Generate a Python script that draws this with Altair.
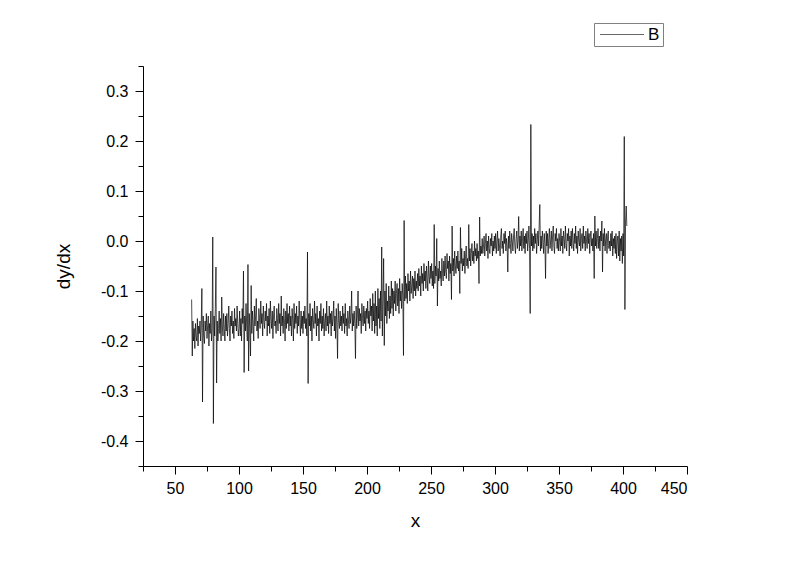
import altair as alt
import pandas as pd

seg_063 = [-0.117, -0.23, -0.16, -0.2, -0.175, -0.215, -0.165, -0.19, -0.2, -0.155, -0.21, -0.17, -0.185, -0.16]
seg_070 = [-0.2, -0.165, -0.095, -0.322, -0.15, -0.19, -0.205, -0.16, -0.18, -0.145, -0.195, -0.17, -0.15, -0.21, -0.165, -0.185, -0.14, -0.2, -0.175, 0.008]
seg_080 = [-0.365, -0.15, -0.19, -0.135, -0.052, -0.284, -0.16, -0.2, -0.175, -0.14, -0.185, -0.155, -0.2, -0.112, -0.17, -0.19, -0.145, -0.175, -0.2, -0.15]
seg_090 = [-0.18, -0.145, -0.19, -0.165, -0.13, -0.175, -0.2, -0.15, -0.17, -0.14, -0.185, -0.16, -0.195, -0.135, -0.17, -0.155, -0.18, -0.13, -0.165, -0.19]
seg_100 = [-0.175, -0.14, -0.19, -0.155, -0.2, -0.135, -0.165, -0.06, -0.263, -0.15, -0.18, -0.125, -0.17, -0.2, -0.047, -0.26, -0.145, -0.175, -0.23, -0.089]
seg_110 = [-0.185, -0.14, -0.165, -0.2, -0.13, -0.17, -0.15, -0.115, -0.18, -0.16, -0.195, -0.135, -0.155, -0.175, -0.12, -0.165, -0.145, -0.19, -0.13, -0.16]
seg_120 = [-0.175, -0.14, -0.16, -0.125, -0.19, -0.15, -0.17, -0.135, -0.185, -0.12, -0.155, -0.175, -0.14, -0.195, -0.15, -0.13, -0.17, -0.16, -0.185, -0.135]
seg_130 = [-0.155, -0.18, -0.125, -0.165, -0.145, -0.19, -0.11, -0.17, -0.15, -0.185, -0.135, -0.16, -0.2, -0.14, -0.175, -0.125, -0.165, -0.145, -0.18, -0.13]
seg_140 = [-0.17, -0.15, -0.19, -0.135, -0.16, -0.2, -0.125, -0.175, -0.145, -0.165, -0.13, -0.185, -0.15, -0.17, -0.12, -0.16, -0.19, -0.14, -0.175, -0.15]
seg_150 = [-0.185, -0.14, -0.165, -0.13, -0.175, -0.155, -0.19, -0.022, -0.285, -0.145, -0.17, -0.125, -0.18, -0.15, -0.2, -0.135, -0.16, -0.175, -0.12, -0.165]
seg_160 = [-0.145, -0.19, -0.13, -0.17, -0.155, -0.2, -0.14, -0.165, -0.125, -0.18, -0.15, -0.175, -0.135, -0.19, -0.16, -0.145, -0.18, -0.12, -0.17, -0.15]
seg_170 = [-0.185, -0.13, -0.165, -0.145, -0.19, -0.14, -0.17, -0.155, -0.12, -0.18, -0.15, -0.195, -0.135, -0.165, -0.235, -0.125, -0.16, -0.175, -0.14, -0.17]
seg_180 = [-0.15, -0.18, -0.13, -0.165, -0.145, -0.185, -0.125, -0.17, -0.155, -0.19, -0.14, -0.16, -0.175, -0.13, -0.165, -0.15, -0.1, -0.18, -0.145, -0.17]
seg_190 = [-0.14, -0.165, -0.235, -0.13, -0.175, -0.15, -0.1, -0.17, -0.135, -0.16, -0.145, -0.185, -0.125, -0.155, -0.17, -0.13, -0.165, -0.14, -0.18, -0.135]
seg_200 = [-0.155, -0.12, -0.165, -0.14, -0.175, -0.115, -0.15, -0.13, -0.18, -0.105, -0.16, -0.125, -0.185, -0.1, -0.17, -0.13, -0.19, -0.095, -0.155, -0.115]
seg_210 = [-0.175, -0.1, -0.16, -0.012, -0.19, -0.115, -0.035, -0.209, -0.1, -0.15, -0.085, -0.165, -0.12, -0.14, -0.09, -0.155, -0.11, -0.145, -0.08, -0.135]
seg_220 = [-0.095, -0.15, -0.1, -0.125, -0.08, -0.14, -0.105, -0.085, -0.13, -0.095, -0.145, -0.075, -0.12, -0.1, -0.135, -0.085, -0.11, -0.229, 0.041, -0.12]
seg_230 = [-0.07, -0.115, -0.085, -0.125, -0.065, -0.1, -0.08, -0.12, -0.06, -0.105, -0.09, -0.07, -0.115, -0.075, -0.1, -0.06, -0.11, -0.08, -0.095, -0.065]
seg_240 = [-0.1, -0.055, -0.09, -0.07, -0.11, -0.05, -0.085, -0.065, -0.1, -0.045, -0.08, -0.06, -0.095, -0.05, -0.075, -0.1, -0.04, -0.07, -0.085, -0.05]
seg_250 = [-0.075, -0.045, -0.09, -0.06, -0.095, 0.033, -0.085, -0.05, -0.07, 0.005, -0.13, -0.055, -0.08, -0.04, -0.075, -0.06, -0.09, -0.035, -0.065, -0.08]
seg_260 = [-0.04, -0.07, -0.03, -0.06, -0.075, -0.025, -0.055, -0.04, -0.08, -0.03, -0.065, -0.045, -0.117, 0.03, -0.06, -0.035, -0.07, -0.02, -0.05, -0.065]
seg_270 = [-0.03, -0.055, -0.02, -0.06, -0.04, -0.105, 0.027, -0.045, -0.015, -0.06, -0.035, -0.05, -0.02, -0.065, -0.03, -0.01, -0.05, -0.035, -0.055, 0.033]
seg_280 = [-0.04, -0.015, -0.05, -0.025, -0.005, -0.04, -0.02, -0.045, 0.0, -0.03, -0.015, -0.04, -0.005, -0.035, -0.02, -0.085, 0.048, -0.03, -0.01, -0.025]
seg_290 = [0.005, -0.025, -0.01, 0.01, -0.03, -0.005, 0.015, -0.02, 0.0, -0.035, 0.01, -0.015, -0.025, 0.005, -0.01, 0.015, -0.03, 0.0, -0.02, 0.01]
seg_300 = [-0.015, 0.015, -0.025, 0.0, 0.02, -0.02, 0.005, -0.01, -0.03, 0.01, 0.025, -0.015, 0.0, -0.025, 0.015, -0.005, 0.02, -0.02, 0.005, -0.01]
seg_310 = [-0.062, 0.01, -0.015, 0.02, -0.005, -0.025, 0.015, 0.0, -0.02, 0.01, 0.025, -0.01, -0.025, 0.005, 0.02, -0.015, 0.0, 0.049, -0.02, 0.01]
seg_320 = [-0.01, 0.02, -0.02, 0.005, 0.025, -0.015, 0.01, -0.025, 0.015, -0.005, 0.02, -0.02, 0.0, 0.03, -0.015, -0.145, 0.233, -0.01, 0.015, -0.02]
seg_330 = [0.01, -0.015, 0.025, -0.005, 0.015, -0.025, 0.0, 0.02, -0.01, 0.03, 0.073, -0.02, 0.01, -0.015, 0.02, 0.0, -0.025, 0.015, -0.005, -0.075]
seg_340 = [0.02, -0.01, 0.015, -0.025, 0.005, 0.025, -0.015, 0.0, 0.02, -0.02, 0.01, 0.03, -0.01, -0.025, 0.015, 0.0, 0.025, -0.015, 0.005, -0.02]
seg_350 = [0.015, 0.0, -0.02, 0.025, -0.01, 0.01, -0.025, 0.02, 0.005, -0.015, 0.03, -0.005, -0.02, 0.015, 0.0, 0.025, -0.03, 0.01, -0.01, 0.02]
seg_360 = [-0.015, 0.025, 0.0, -0.02, 0.015, -0.005, 0.03, -0.015, 0.01, -0.025, 0.02, 0.0, -0.01, 0.025, -0.02, 0.005, 0.015, -0.015, 0.03, -0.005]
seg_370 = [0.01, -0.02, 0.02, 0.0, -0.015, 0.025, -0.005, 0.015, -0.025, 0.01, 0.02, -0.01, 0.005, -0.02, 0.015, -0.075, 0.05, -0.01, 0.02, -0.015]
seg_380 = [0.005, 0.025, -0.015, 0.01, -0.02, 0.02, 0.0, 0.04, -0.062, 0.015, -0.01, 0.025, -0.02, 0.005, 0.015, -0.025, 0.01, 0.02, -0.015, 0.0]
seg_390 = [-0.02, 0.015, -0.01, 0.02, -0.03, 0.005, -0.015, 0.01, -0.025, 0.015, -0.035, 0.0, 0.01, -0.03, 0.02, -0.04, 0.005, -0.02, 0.01, -0.045]
seg_400 = [0.015, -0.03, 0.209, -0.137, 0.04, 0.07, 0.03]

segments = [
    (63, seg_063), (70, seg_070), (80, seg_080), (90, seg_090), (100, seg_100),
    (110, seg_110), (120, seg_120), (130, seg_130), (140, seg_140), (150, seg_150),
    (160, seg_160), (170, seg_170), (180, seg_180), (190, seg_190), (200, seg_200),
    (210, seg_210), (220, seg_220), (230, seg_230), (240, seg_240), (250, seg_250),
    (260, seg_260), (270, seg_270), (280, seg_280), (290, seg_290), (300, seg_300),
    (310, seg_310), (320, seg_320), (330, seg_330), (340, seg_340), (350, seg_350),
    (360, seg_360), (370, seg_370), (380, seg_380), (390, seg_390), (400, seg_400),
]
x_step = 0.5

x_major = [50, 100, 150, 200, 250, 300, 350, 400, 450]
x_minor = [25, 75, 125, 175, 225, 275, 325, 375, 425]
y_major = [-0.4, -0.3, -0.2, -0.1, 0.0, 0.1, 0.2, 0.3]
y_minor = [-0.45, -0.35, -0.25, -0.15, -0.05, 0.05, 0.15, 0.25, 0.35]
series_name = "B"

rows = []
for start, vals in segments:
    for i, v in enumerate(vals):
        rows.append({"x": start + i * x_step, "v": v, "s": series_name})
df = pd.DataFrame(rows)

FONT = "Liberation Sans"
xscale = alt.Scale(domain=[25, 450], nice=False, zero=False)
yscale = alt.Scale(domain=[-0.45, 0.35], nice=False, zero=False)

legend = alt.Legend(
    title=None, orient="none", legendX=451, legendY=-43,
    symbolType="M-1,0H7", symbolSize=121, symbolStrokeWidth=0.6,
    labelFont=FONT, labelFontSize=17, labelColor="black", labelOffset=34,
    strokeColor="#808080", fillColor="white", padding=3, cornerRadius=0,
)

line = alt.Chart(df).mark_line(strokeWidth=0.7).encode(
    x=alt.X("x:Q", scale=xscale, axis=alt.Axis(
        values=x_major, format="d", tickSize=8, labelPadding=6,
        title="x", titleX=272, titleY=60, titleBaseline="alphabetic",
        titleFontSize=19, titleFontWeight="normal", titleFont=FONT, orient="bottom")),
    y=alt.Y("v:Q", scale=yscale, axis=alt.Axis(
        values=y_major, tickSize=8, labelPadding=7,
        labelExpr="(datum.value < -0.0001 ? '-' : '') + format(abs(datum.value), '.1f')",
        title="dy/dx", titleX=-74, titleY=200, titleBaseline="alphabetic", titleAngle=-90,
        titleFontSize=19, titleFontWeight="normal", titleFont=FONT, orient="left")),
    color=alt.Color("s:N", scale=alt.Scale(range=["#000000"]), legend=legend),
)

minor = alt.Chart(df).mark_line(strokeOpacity=0).encode(
    x=alt.X("x:Q", scale=xscale, axis=alt.Axis(
        values=x_minor, labels=False, domain=False, tickSize=5, title=None, orient="bottom")),
    y=alt.Y("v:Q", scale=yscale, axis=alt.Axis(
        values=y_minor, labels=False, domain=False, tickSize=5, title=None, orient="left")),
)

chart = alt.layer(line, minor).resolve_axis(
    x="independent", y="independent"
).properties(
    width=544, height=400,
    autosize=alt.AutoSizeParams(type="none"),
    padding={"left": 135, "top": 58, "right": 90, "bottom": 80},
).configure_view(strokeWidth=0).configure_axis(
    grid=False, domainColor="black", domainWidth=1, tickColor="black", tickWidth=1,
    labelColor="black", labelFont=FONT, labelFontSize=16, titleColor="black",
)

chart.save("out.html", embed_options={"renderer": "svg", "actions": False})
